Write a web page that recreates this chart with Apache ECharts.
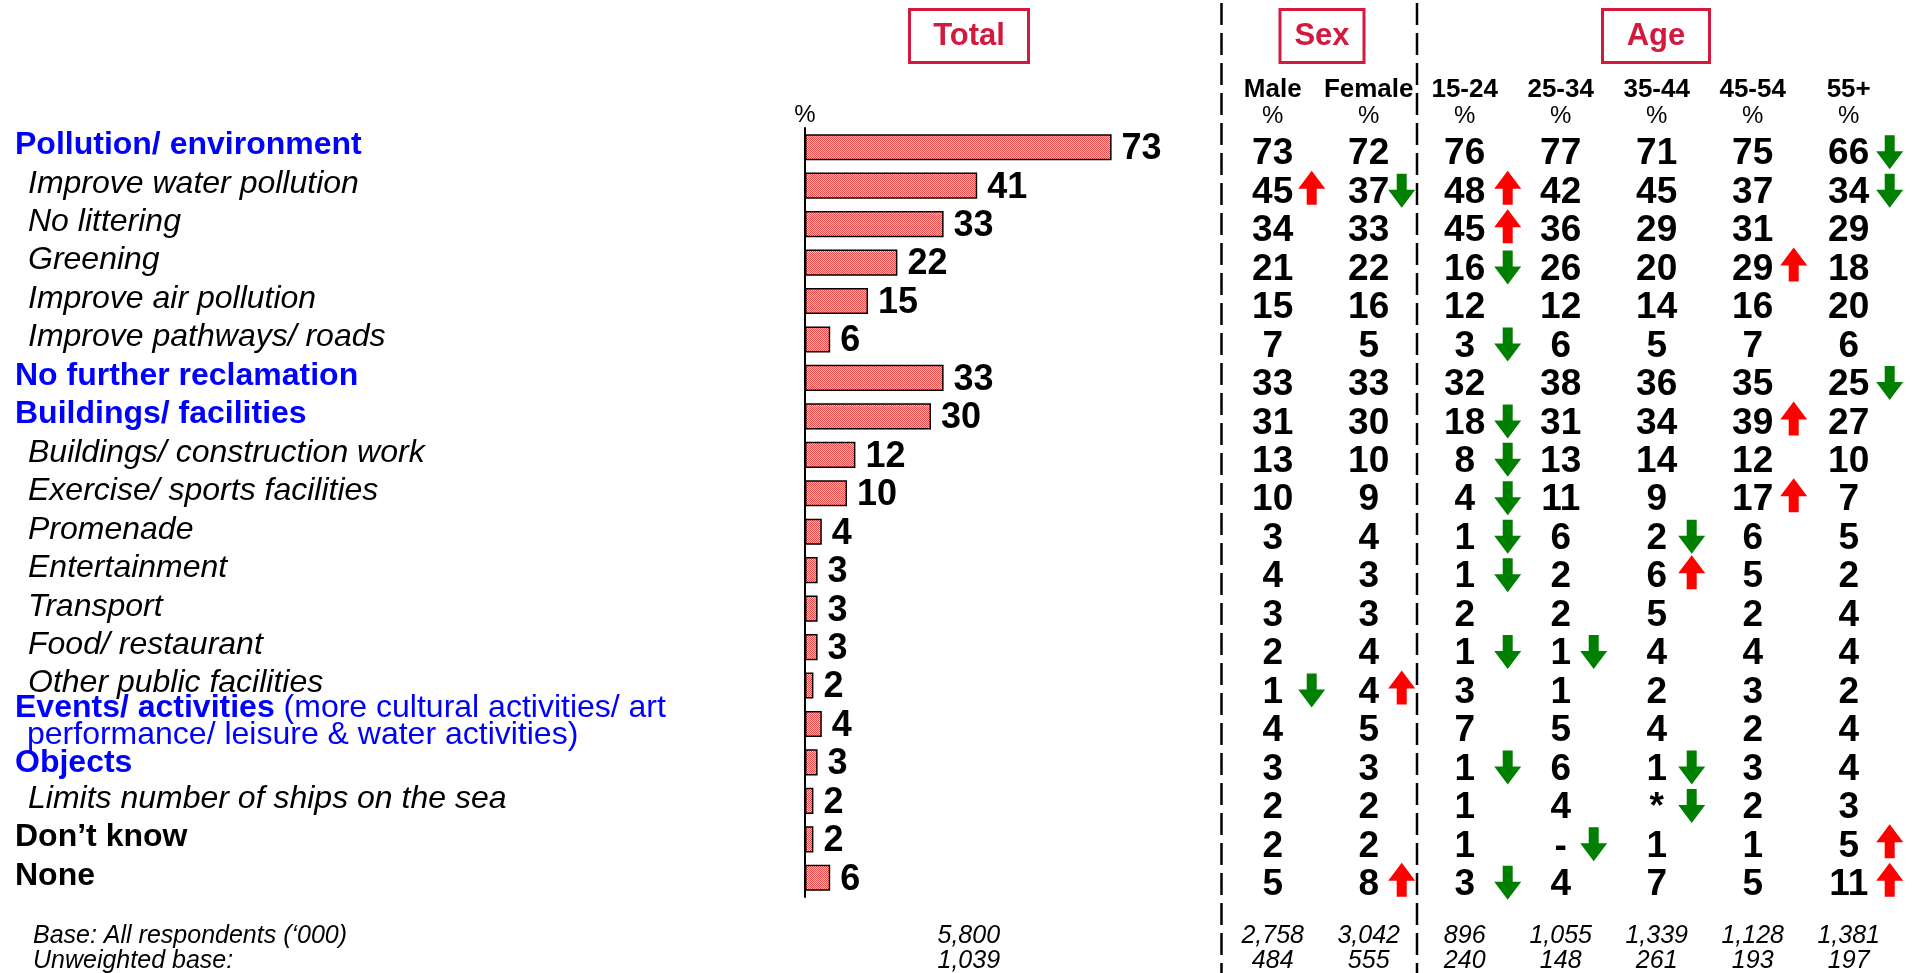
<!DOCTYPE html>
<html>
<head>
<meta charset="utf-8">
<title>Suggestions</title>
<script src="https://cdn.jsdelivr.net/npm/echarts@6/dist/echarts.min.js"></script>
<style>
html, body { margin: 0; padding: 0; background: #fff; }
#main { width: 1917px; height: 973px; }
</style>
</head>
<body>
<div id="main"></div>
<script>
const FONT = '"Liberation Sans", Arial, Helvetica, sans-serif';

// rows of the table, h = blue heading, s = italic sub item, e = events (2 lines), o = objects, k = black bold
const rows = [
  'Pollution/ environment', 'Improve water pollution', 'No littering', 'Greening',
  'Improve air pollution', 'Improve pathways/ roads', 'No further reclamation',
  'Buildings/ facilities', 'Buildings/ construction work', 'Exercise/ sports facilities',
  'Promenade', 'Entertainment', 'Transport', 'Food/ restaurant', 'Other public facilities',
  'Events/ activities', 'Objects', 'Limits number of ships on the sea', 'Don’t know', 'None'
];
const rowKind = ['h','s','s','s','s','s','h','h','s','s','s','s','s','s','s','e','o','s','k','k'];
const eventsNote = ['(more cultural activities/ art', 'performance/ leisure & water activities)'];

const total = [73, 41, 33, 22, 15, 6, 33, 30, 12, 10, 4, 3, 3, 3, 2, 4, 3, 2, 2, 6];

const colNames = ['Male', 'Female', '15-24', '25-34', '35-44', '45-54', '55+'];
const male    = [73, 45, 34, 21, 15, 7, 33, 31, 13, 10, 3, 4, 3, 2, 1, 4, 3, 2, 2, 5];
const female  = [72, 37, 33, 22, 16, 5, 33, 30, 10, 9, 4, 3, 3, 4, 4, 5, 3, 2, 2, 8];
const age1524 = [76, 48, 45, 16, 12, 3, 32, 18, 8, 4, 1, 1, 2, 1, 3, 7, 1, 1, 1, 3];
const age2534 = [77, 42, 36, 26, 12, 6, 38, 31, 13, 11, 6, 2, 2, 1, 1, 5, 6, 4, '-', 4];
const age3544 = [71, 45, 29, 20, 14, 5, 36, 34, 14, 9, 2, 6, 5, 4, 2, 4, 1, '*', 1, 7];
const age4554 = [75, 37, 31, 29, 16, 7, 35, 39, 12, 17, 6, 5, 2, 4, 3, 2, 3, 2, 1, 5];
const age55   = [66, 34, 29, 18, 20, 6, 25, 27, 10, 7, 5, 2, 4, 4, 2, 4, 4, 3, 5, 11];

// significance: 1 = higher (red up), -1 = lower (green down)
const maleSig    = [0, 1, 0, 0, 0, 0, 0, 0, 0, 0, 0, 0, 0, 0, -1, 0, 0, 0, 0, 0];
const femaleSig  = [0, -1, 0, 0, 0, 0, 0, 0, 0, 0, 0, 0, 0, 0, 1, 0, 0, 0, 0, 1];
const age1524Sig = [0, 1, 1, -1, 0, -1, 0, -1, -1, -1, -1, -1, 0, -1, 0, 0, -1, 0, 0, -1];
const age2534Sig = [0, 0, 0, 0, 0, 0, 0, 0, 0, 0, 0, 0, 0, -1, 0, 0, 0, 0, -1, 0];
const age3544Sig = [0, 0, 0, 0, 0, 0, 0, 0, 0, 0, -1, 1, 0, 0, 0, 0, -1, -1, 0, 0];
const age4554Sig = [0, 0, 0, 1, 0, 0, 0, 1, 0, 1, 0, 0, 0, 0, 0, 0, 0, 0, 0, 0];
const age55Sig   = [-1, -1, 0, 0, 0, 0, -1, 0, 0, 0, 0, 0, 0, 0, 0, 0, 0, 0, 1, 1];

const totalBase = ['5,800', '1,039'];
const base       = ['2,758', '3,042', '896', '1,055', '1,339', '1,128', '1,381'];
const unweighted = ['484', '555', '240', '148', '261', '193', '197'];

const cols = [male, female, age1524, age2534, age3544, age4554, age55];
const sigs = [maleSig, femaleSig, age1524Sig, age2534Sig, age3544Sig, age4554Sig, age55Sig];
// arrow x distance from column centre (px)
const arrowOff = [39, 33, 43, 33, 35, 41, 41];

// dotted pink fill like the original
const pat = document.createElement('canvas');
pat.width = 2; pat.height = 2;
const pc = pat.getContext('2d');
pc.fillStyle = '#ffc4c4'; pc.fillRect(0, 0, 2, 2);
pc.fillStyle = '#ff4848'; pc.fillRect(0, 0, 1, 1); pc.fillRect(1, 1, 1, 1);

const cellData = [];
const upData = [];
const downData = [];
cols.forEach((col, c) => {
  col.forEach((v, r) => {
    cellData.push({ value: [c, r], txt: String(v) });
    if (sigs[c][r] === 1) upData.push({ value: [c, r], symbolOffset: [arrowOff[c], 2] });
    if (sigs[c][r] === -1) downData.push({ value: [c, r], symbolOffset: [arrowOff[c], 5] });
  });
});

const upPath = 'path://M13.5,0L27,18L18.5,18L18.5,34L8.5,34L8.5,18L0,18Z';
const downPath = 'path://M8.5,0L18.5,0L18.5,16L27,16L13.5,34L0,16L8.5,16Z';
const RED = '#d21a3f';

const chart = echarts.init(document.getElementById('main'), null, { renderer: 'canvas' });

const option = {
  animation: false,
  backgroundColor: '#fff',
  textStyle: { fontFamily: FONT },
  grid: [
    { left: 805, top: 128, width: 327.6, height: 769, outerBoundsMode: 'none', containLabel: false },
    { left: 1224.7, top: 128, width: 672, height: 769, outerBoundsMode: 'none', containLabel: false }
  ],
  xAxis: [
    {
      type: 'value', gridIndex: 0, min: 0, max: 78,
      axisLine: { show: false }, axisTick: { show: false }, axisLabel: { show: false },
      splitLine: { show: false },
      name: totalBase.join('\n'), nameLocation: 'middle', nameGap: 27,
      nameTextStyle: { color: '#000', fontFamily: FONT, fontStyle: 'italic', fontSize: 25, lineHeight: 25, verticalAlign: 'top' }
    },
    {
      type: 'category', gridIndex: 1, position: 'top', data: colNames,
      axisLine: { show: false }, axisTick: { show: false }, splitLine: { show: false },
      axisLabel: {
        interval: 0, margin: -1,
        formatter: (v) => '{n|' + v + '}\n{p|%}',
        rich: {
          n: { color: '#000', fontFamily: FONT, fontWeight: 'bold', fontSize: 26, lineHeight: 26 },
          p: { color: '#000', fontFamily: FONT, fontSize: 24, lineHeight: 26 }
        }
      }
    },
    {
      type: 'category', gridIndex: 1, position: 'bottom', data: colNames,
      axisLine: { show: false }, axisTick: { show: false }, splitLine: { show: false },
      axisLabel: {
        interval: 0, margin: 27,
        formatter: (v, i) => base[i] + '\n' + unweighted[i],
        color: '#000', fontFamily: FONT, fontStyle: 'italic', fontSize: 25, lineHeight: 25
      }
    }
  ],
  yAxis: [
    {
      type: 'category', gridIndex: 0, data: rows, inverse: true,
      axisLine: { show: true, lineStyle: { color: '#000', width: 2 } },
      axisTick: { show: false },
      name: '%', nameLocation: 'start', nameGap: 1,
      nameTextStyle: { color: '#000', fontFamily: FONT, fontSize: 24, align: 'center', verticalAlign: 'bottom' },
      axisLabel: {
        interval: 0, margin: 790, align: 'left', padding: [0, 0, 4, 0],
        formatter: (v, i) => {
          const k = rowKind[i];
          if (k === 'e') return '{eb|' + v + '}{en| ' + eventsNote[0] + '}\n{en2|' + eventsNote[1] + '}';
          return '{' + k + '|' + v + '}';
        },
        rich: {
          h: { color: '#0000ff', fontFamily: FONT, fontWeight: 'bold', fontSize: 32 },
          o: { color: '#0000ff', fontFamily: FONT, fontWeight: 'bold', fontSize: 32, padding: [5, 0, 0, 0] },
          s: { color: '#000', fontFamily: FONT, fontStyle: 'italic', fontSize: 32, padding: [0, 0, 0, 13] },
          k: { color: '#000', fontFamily: FONT, fontWeight: 'bold', fontSize: 32 },
          eb: { color: '#0000ff', fontFamily: FONT, fontWeight: 'bold', fontSize: 32, lineHeight: 27 },
          en: { color: '#0000ff', fontFamily: FONT, fontSize: 32, lineHeight: 27 },
          en2: { color: '#0000ff', fontFamily: FONT, fontSize: 32, lineHeight: 27, padding: [0, 0, 0, 12] }
        }
      }
    },
    {
      type: 'category', gridIndex: 1, data: rows, inverse: true, show: false
    }
  ],
  series: [
    {
      type: 'bar', xAxisIndex: 0, yAxisIndex: 0, data: total, barWidth: '68%',
      itemStyle: { color: { image: pat, repeat: 'repeat' }, borderColor: '#000', borderWidth: 1.5 },
      label: { show: true, position: 'right', distance: 10, offset: [0, 2], color: '#000', fontFamily: FONT, fontWeight: 'bold', fontSize: 36 },
      silent: true
    },
    {
      type: 'scatter', xAxisIndex: 1, yAxisIndex: 1, data: cellData,
      symbolSize: 0, itemStyle: { color: '#000', opacity: 1 }, silent: true,
      label: {
        show: true, position: 'inside', offset: [0, 7],
        formatter: (p) => p.data.txt,
        color: '#000', textBorderWidth: 0, fontFamily: FONT, fontWeight: 'bold', fontSize: 37
      }
    },
    {
      type: 'scatter', xAxisIndex: 1, yAxisIndex: 1, data: upData, clip: false,
      symbol: upPath, symbolSize: [27, 34], symbolKeepAspect: false,
      itemStyle: { color: '#ff0000', opacity: 1 }, silent: true
    },
    {
      type: 'scatter', xAxisIndex: 1, yAxisIndex: 1, data: downData, clip: false,
      symbol: downPath, symbolSize: [27, 34], symbolKeepAspect: false,
      itemStyle: { color: '#008000', opacity: 1 }, silent: true
    }
  ],
  graphic: [
    { type: 'rect', shape: { x: 909.5, y: 9.5, width: 119, height: 53 }, style: { fill: 'none', stroke: RED, lineWidth: 3 } },
    { type: 'rect', shape: { x: 1280, y: 9.5, width: 84, height: 53 }, style: { fill: 'none', stroke: RED, lineWidth: 3 } },
    { type: 'rect', shape: { x: 1602.5, y: 9.5, width: 107, height: 53 }, style: { fill: 'none', stroke: RED, lineWidth: 3 } },
    { type: 'text', style: { x: 969, y: 36, text: 'Total', fill: RED, font: 'bold 31px ' + FONT, align: 'center', verticalAlign: 'middle', textAlign: 'center', textVerticalAlign: 'middle' } },
    { type: 'text', style: { x: 1322, y: 36, text: 'Sex', fill: RED, font: 'bold 31px ' + FONT, align: 'center', verticalAlign: 'middle', textAlign: 'center', textVerticalAlign: 'middle' } },
    { type: 'text', style: { x: 1656, y: 36, text: 'Age', fill: RED, font: 'bold 31px ' + FONT, align: 'center', verticalAlign: 'middle', textAlign: 'center', textVerticalAlign: 'middle' } },
    { type: 'line', shape: { x1: 1221.5, y1: 3, x2: 1221.5, y2: 973 }, style: { stroke: '#000', lineWidth: 2.5, lineDash: [22, 8] } },
    { type: 'line', shape: { x1: 1417, y1: 3, x2: 1417, y2: 973 }, style: { stroke: '#000', lineWidth: 2.5, lineDash: [22, 8] } },
    { type: 'text', style: { x: 33, y: 936, text: 'Base: All respondents (‘000)', fill: '#000', font: 'italic 25px ' + FONT, align: 'left', verticalAlign: 'middle', textAlign: 'left', textVerticalAlign: 'middle' } },
    { type: 'text', style: { x: 33, y: 961, text: 'Unweighted base:', fill: '#000', font: 'italic 25px ' + FONT, align: 'left', verticalAlign: 'middle', textAlign: 'left', textVerticalAlign: 'middle' } }
  ]
};

chart.setOption(option);
</script>
</body>
</html>
